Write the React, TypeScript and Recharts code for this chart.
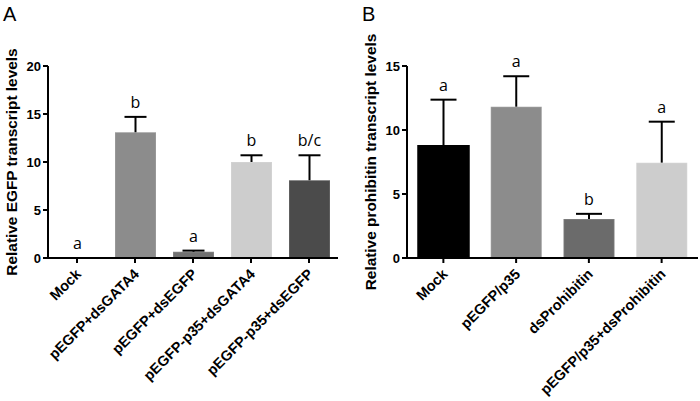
import React from "react";
import { BarChart, Bar, XAxis, YAxis, LabelList, Label, Cell } from "recharts";

const catsA = ["Mock", "pEGFP+dsGATA4", "pEGFP+dsEGFP", "pEGFP-p35+dsGATA4", "pEGFP-p35+dsEGFP"];
const meanA = [0, 13.1, 0.65, 10.0, 8.1];
const errA = [0, 1.6, 0.12, 0.7, 2.6];
const sigA = ["a", "b", "a", "b", "b/c"];
const colorsA = ["#000000", "#8c8c8c", "#717171", "#cdcdcd", "#4b4b4b"];
const ticksA = [0, 5, 10, 15, 20];

const catsB = ["Mock", "pEGFP/p35", "dsProhibitin", "pEGFP/p35+dsProhibitin"];
const meanB = [8.77, 11.82, 3.05, 7.45];
const errB = [3.6, 2.38, 0.4, 3.2];
const sigB = ["a", "a", "b", "a"];
const colorsB = ["#000000", "#8c8c8c", "#6b6b6b", "#cdcdcd"];
const ticksB = [0, 5, 10, 15];

const FONT = "'Liberation Sans', Arial, sans-serif";

const dataA = catsA.map((c, i) => ({ name: c, value: meanA[i], err: errA[i], sig: sigA[i] }));
const dataB = catsB.map((c, i) => ({ name: c, value: meanB[i], err: errB[i], sig: sigB[i] }));

const makeWhisker = (capHalf: number) => (props: any) => {
  const { x, y, width, height } = props;
  if (!height || height <= 0) return <g />;
  const cx = x + width / 2;
  return (
    <g>
      <line x1={cx} y1={y + height} x2={cx} y2={y} stroke="#000" strokeWidth={2} />
      <line x1={cx - capHalf} y1={y} x2={cx + capHalf} y2={y} stroke="#000" strokeWidth={2} />
    </g>
  );
};

const sigLabel = (props: any) => {
  const { x, y, width, value } = props;
  return (
    <text x={x + width / 2} y={y - 9} textAnchor="middle" fontSize={16} fontFamily="'Open Sans', sans-serif" fill="#000">
      {value}
    </text>
  );
};

const XTick = (props: any) => {
  const { x, y, payload } = props;
  return (
    <g transform={`translate(${x + 5},${y + 10})`}>
      <text x={0} y={0} textAnchor="end" fontSize={14.5} fontWeight="bold" fontFamily={FONT} fill="#000" transform="rotate(-45)">
        {payload.value}
      </text>
    </g>
  );
};

const yLabel = (text: string, xPos: number) => (props: any) => {
  const vb = props.viewBox;
  const cy = vb.y + vb.height / 2;
  return (
    <text x={xPos} y={cy} textAnchor="middle" dominantBaseline="central" fontSize={15.4} fontWeight="bold" fontFamily={FONT} fill="#000" transform={`rotate(-90, ${xPos}, ${cy})`}>
      {text}
    </text>
  );
};

function Panel({ data, colors, ticks, max, yWidth, right, barSize, capHalf, label, labelX }: any) {
  return (
    <BarChart width={350} height={401} data={data} margin={{ top: 66, right, left: 0, bottom: 0 }} barCategoryGap={0}>
      <XAxis
        dataKey="name"
        interval={0}
        tick={<XTick />}
        axisLine={{ stroke: "#000", strokeWidth: 2 }}
        tickLine={{ stroke: "#000", strokeWidth: 2 }}
        tickSize={5}
        height={143}
      />
      <YAxis
        width={yWidth}
        domain={[0, max]}
        ticks={ticks}
        interval={0}
        axisLine={{ stroke: "#000", strokeWidth: 2 }}
        tickLine={{ stroke: "#000", strokeWidth: 2 }}
        tickSize={5}
        tick={{ fontSize: 13, fontWeight: "bold", fill: "#000", fontFamily: FONT }}
      >
        <Label content={yLabel(label, labelX)} />
      </YAxis>
      <Bar dataKey="value" stackId="s" barSize={barSize} isAnimationActive={false}>
        {data.map((_: any, i: number) => (
          <Cell key={i} fill={colors[i]} stroke={colors[i] === "#000000" ? "#000" : "rgba(255,255,255,0.15)"} strokeWidth={1.5} />
        ))}
      </Bar>
      <Bar dataKey="err" stackId="s" barSize={barSize} isAnimationActive={false} shape={makeWhisker(capHalf)}>
        <LabelList dataKey="sig" content={sigLabel} />
      </Bar>
    </BarChart>
  );
}

export default function App() {
  return (
    <div style={{ position: "absolute", left: 0, top: 0, width: 700, height: 401, background: "#fff" }}>
      <div style={{ position: "absolute", left: 3, top: 1, fontSize: 20, fontFamily: FONT, lineHeight: "26px" }}>A</div>
      <div style={{ position: "absolute", left: 362, top: 1, fontSize: 20, fontFamily: FONT, lineHeight: "26px" }}>B</div>
      <div style={{ position: "absolute", left: 0, top: 0 }}>
        <Panel data={dataA} colors={colorsA} ticks={ticksA} max={20} yWidth={48} right={12} barSize={41} capHalf={11} label="Relative EGFP transcript levels" labelX={11} />
      </div>
      <div style={{ position: "absolute", left: 350, top: 0 }}>
        <Panel data={dataB} colors={colorsB} ticks={ticksB} max={15} yWidth={57} right={2} barSize={51} capHalf={13} label="Relative prohibitin transcript levels" labelX={20} />
      </div>
    </div>
  );
}
